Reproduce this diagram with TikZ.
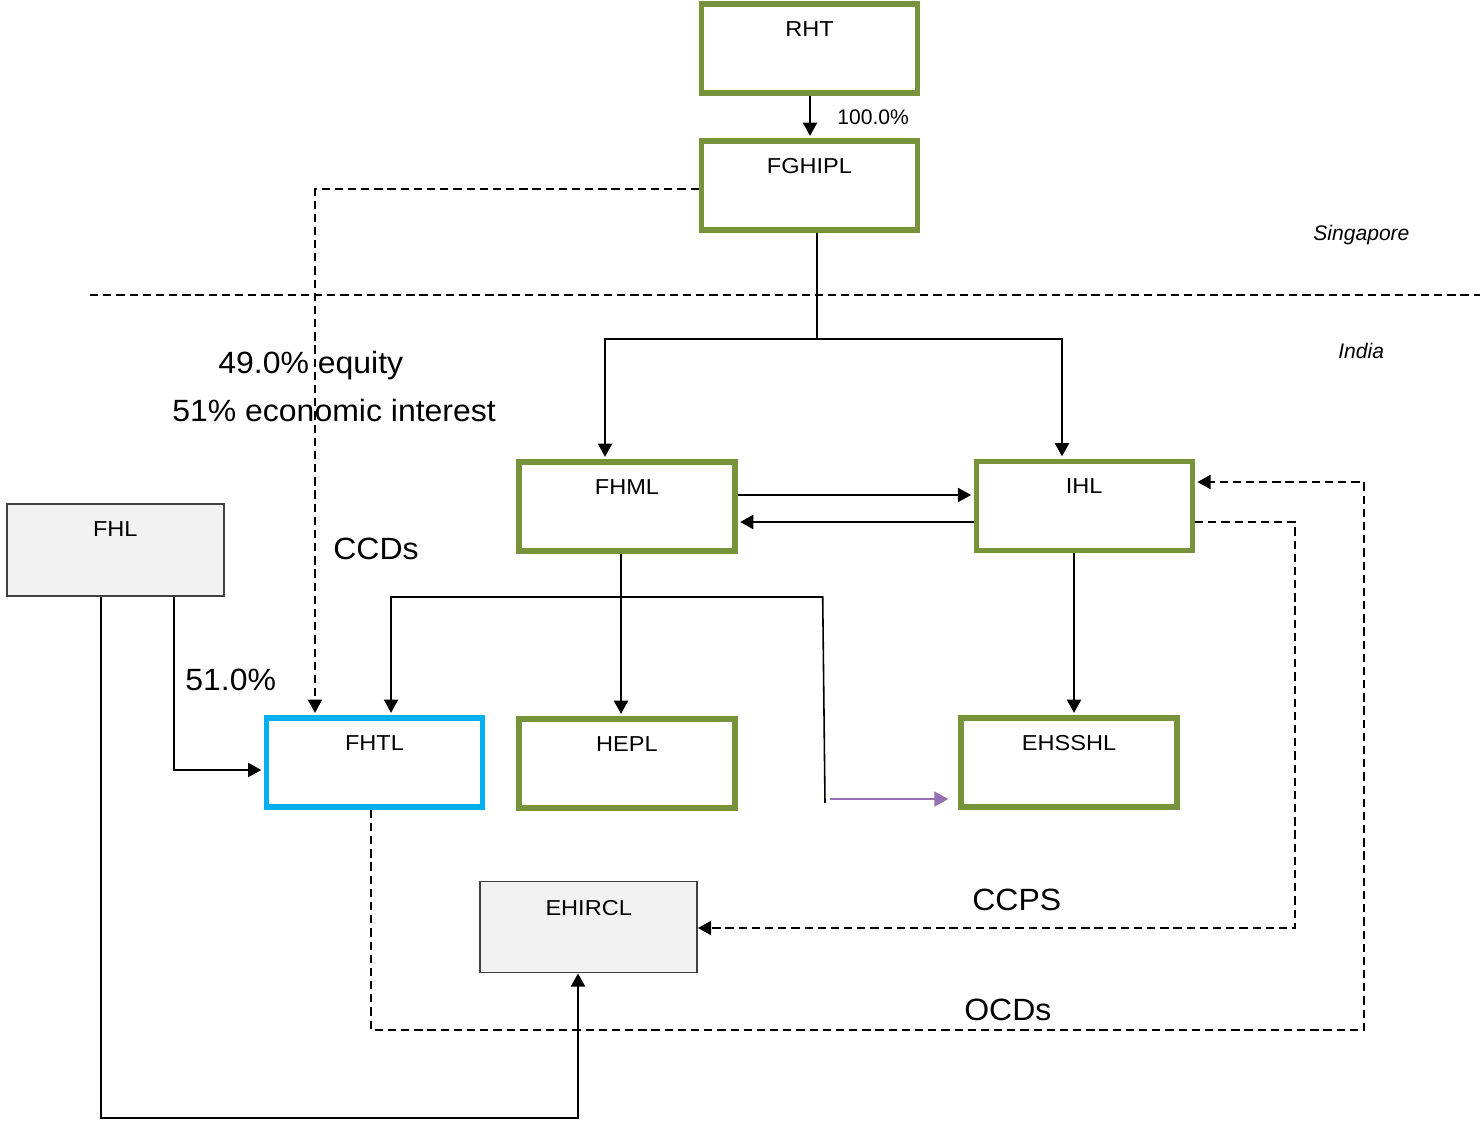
\documentclass[tikz,border=0pt]{standalone}
\usepackage{fontspec}
\setmainfont{Liberation Sans}
\newfontfamily\boxfam[FakeStretch=1.09]{Liberation Sans}
\newfontfamily\bigfam[FakeStretch=1.04]{Liberation Sans}
\usetikzlibrary{arrows.meta}
\definecolor{ogreen}{RGB}{119,147,60}
\definecolor{cblue}{RGB}{0,176,240}
\definecolor{gfill}{RGB}{242,242,242}
\definecolor{cpurple}{RGB}{150,112,178}
\begin{document}
\begin{tikzpicture}[x=0.02cm,y=-0.02cm,
  gbox/.style={draw=ogreen, line width=3.1pt, inner sep=0pt, minimum width=4.32cm,
    text height=0.64cm, text depth=1.14cm, font=\boxfam\fontsize{12.3}{15}\selectfont},
  bbox/.style={gbox, draw=cblue},
  graybox/.style={draw=black!75, fill=gfill, line width=0.85pt, inner sep=0pt,
    minimum width=4.34cm, font=\boxfam\fontsize{12.3}{15}\selectfont},
  arr/.style={line width=1.15pt, -{Triangle[length=7.5pt,width=8pt]}},
  tarr/.style={arr, shorten >=1.4pt},
  thinln/.style={line width=0.9pt},
  dsh/.style={line width=1.15pt, dash pattern=on 4.7pt off 2.8pt},
  big/.style={font=\bigfam\fontsize{17.5}{20}\selectfont, inner sep=0pt, anchor=base west},
  small/.style={font=\fontsize{12}{14}\selectfont, inner sep=0pt, anchor=base west},
]
\useasboundingbox (0,0) rectangle (1480,1120);

% separator
\draw[line width=0.95pt, dash pattern=on 4.7pt off 2.8pt] (90,295) -- (1480,295);

% boxes
\node[gbox] (RHT) at (809.5,48.5) {RHT};
\node[gbox] (FGHIPL) at (809.5,185.5) {FGHIPL};
\node[gbox] (FHML) at (627,506.5) {FHML};
\node[gbox] (IHL) at (1084.25,506) {IHL};
\node[bbox] (FHTL) at (374.5,762.5) {FHTL};
\node[gbox] (HEPL) at (627,763.5) {HEPL};
\node[gbox] (EHSSHL) at (1069,762.5) {EHSSHL};
\node[graybox, text height=0.654cm, text depth=1.186cm] (FHL) at (115.3,550) {FHL};
\node[graybox, text height=0.666cm, text depth=1.154cm] (EHIRCL) at (588.7,927.2) {EHIRCL};

% coordinates
\coordinate (v810) at (810,0);
\coordinate (brC) at (817,339);
\coordinate (brL) at (605,339);
\coordinate (brR) at (1062,339);
\coordinate (h495) at (0,495);
\coordinate (h522) at (0,522);
\coordinate (v621) at (621,0);
\coordinate (v1074) at (1074,0);
\coordinate (pS) at (825,803);
\coordinate (pA) at (822.7,597);
\coordinate (pB) at (391,597);
\coordinate (pp) at (830,799);
\coordinate (cA) at (315,189);
\coordinate (fA) at (174,770);
\coordinate (fB) at (101,1118);
\coordinate (fC) at (578,1118);
\coordinate (sA) at (1295,522);
\coordinate (sB) at (1295,928);
\coordinate (oA) at (371,1030);
\coordinate (oB) at (1364,1030);
\coordinate (oC) at (1364,482);

% connectors
\draw[tarr] (RHT.south -| v810) -- (FGHIPL.north -| v810);
\draw[thinln] (FGHIPL.south -| brC) -- (brC);
\draw[tarr] (brC) -- (brL) -- (FHML.north -| brL);
\draw[tarr] (brC) -- (brR) -- (IHL.north -| brR);
\draw[tarr] (FHML.east |- h495) -- (IHL.west |- h495);
\draw[tarr] (IHL.west |- h522) -- (FHML.east |- h522);
\draw[tarr] (FHML.south -| v621) -- (HEPL.north -| v621);
\draw[tarr] (IHL.south -| v1074) -- (EHSSHL.north -| v1074);
\draw[thinln, -{Triangle[length=7.5pt,width=8pt]}, shorten >=1.4pt] (pS) -- (pA) -- (pB) -- (FHTL.north -| pB);
\draw[cpurple, line width=1.15pt, -{Triangle[length=8pt,width=8.5pt]}, shorten >=0.2cm] (pp) -- (EHSSHL.west |- pp);
\draw[dsh, -{Triangle[length=7.5pt,width=8pt]}, shorten >=1.4pt] (FGHIPL.west |- cA) -- (cA) -- (FHTL.north -| cA);
\draw[thinln, -{Triangle[length=7.5pt,width=8pt]}, shorten >=1.4pt] (FHL.south -| fA) -- (fA) -- (FHTL.west |- fA);
\draw[arr] (FHL.south -| fB) -- (fB) -- (fC) -- (EHIRCL.south -| fC);
\draw[dsh, -{Triangle[length=7.5pt,width=8pt]}] (IHL.east |- sA) -- (sA) -- (sB) -- (EHIRCL.east |- sB);
\draw[dsh, -{Triangle[length=7.5pt,width=8pt]}, shorten >=1.4pt] (FHTL.south -| oA) -- (oA) -- (oB) -- (oC) -- (IHL.east |- oC);

% labels
\node[small] (l100) at (837,124) {100.0\%};
\node[small, font=\fontsize{12}{14}\selectfont\itshape] (lsg) at (1313,240.7) {Singapore};
\node[small, font=\fontsize{12}{14}\selectfont\itshape] (lin) at (1338,358.3) {India};
\node[big] (lequity) at (218,373.3) {49.0\% equity};
\node[big] (lecon) at (172,421.7) {51\% economic interest};
\node[big] (lccds) at (333,559) {CCDs};
\node[big] (l51) at (185,690) {51.0\%};
\node[big] (lccps) at (972,910) {CCPS};
\node[big] (locds) at (964,1020.7) {OCDs};
\end{tikzpicture}
\end{document}
